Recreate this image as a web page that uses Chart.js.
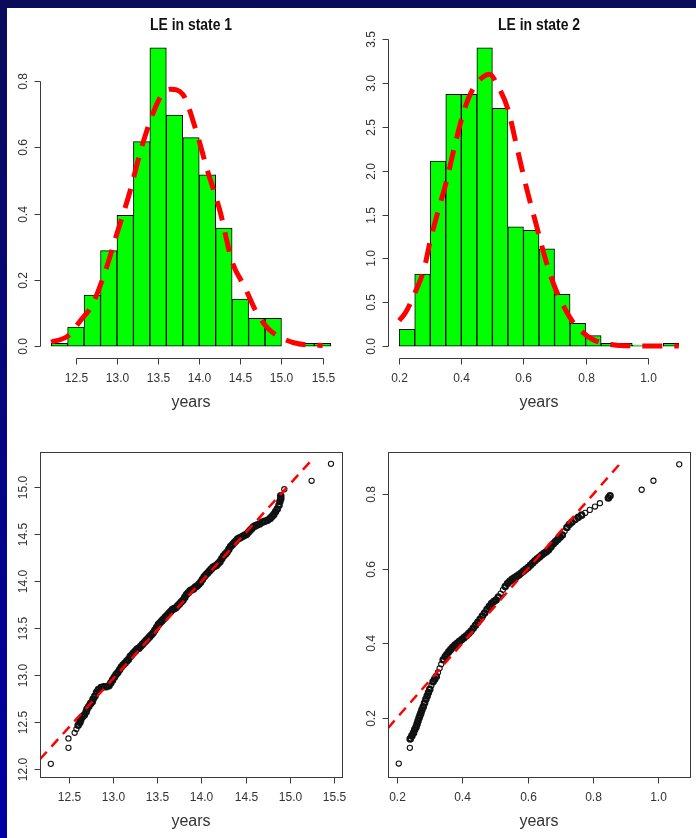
<!DOCTYPE html>
<html>
<head>
<meta charset="utf-8">
<script src="https://cdn.jsdelivr.net/npm/chart.js@4.4.1/dist/chart.umd.min.js"></script>
<style>
  html, body { margin: 0; padding: 0; }
  body { width: 696px; height: 838px; overflow: hidden; position: relative;
         background: linear-gradient(to bottom, #0b0b5c, #0000a6); }
  #paper { position: absolute; left: 7px; top: 8px; right: 0; bottom: 0; background: #fff; }
  canvas { position: absolute; }
</style>
</head>
<body>
<div id="paper"></div>
<canvas id="hist1" width="348" height="420" style="left:0;top:0"></canvas>
<canvas id="hist2" width="348" height="420" style="left:348px;top:0"></canvas>
<canvas id="qq1" width="348" height="420" style="left:0;top:420px"></canvas>
<canvas id="qq2" width="348" height="420" style="left:348px;top:420px"></canvas>
<script>
// histogram, state 1 (bin width 0.2)
const hist1Mids = [12.3, 12.5, 12.7, 12.9, 13.1, 13.3, 13.5, 13.7, 13.9, 14.1, 14.3, 14.5, 14.7, 14.9, 15.1, 15.3, 15.5]
const hist1Density = [0.008, 0.057, 0.154, 0.288, 0.395, 0.617, 0.900, 0.697, 0.629, 0.517, 0.356, 0.142, 0.084, 0.084, 0, 0.008, 0.008]
const curve1X = [12.2, 12.4, 12.55, 12.7, 12.85, 13.0, 13.15, 13.3, 13.45, 13.55, 13.65, 13.8, 13.95, 14.1, 14.25, 14.4, 14.55, 14.7, 14.85, 15.0, 15.15, 15.3, 15.5]
const curve1Y = [0.012, 0.03, 0.075, 0.125, 0.22, 0.34, 0.46, 0.6, 0.71, 0.76, 0.775, 0.76, 0.66, 0.53, 0.41, 0.255, 0.18, 0.1, 0.05, 0.025, 0.01, 0.004, 0.002]

// histogram, state 2 (bin width 0.05)
const hist2Mids = [0.225, 0.275, 0.325, 0.375, 0.425, 0.475, 0.525, 0.575, 0.625, 0.675, 0.725, 0.775, 0.825, 0.875, 0.925, 0.975, 1.025, 1.075]
const hist2Density = [0.19, 0.82, 2.11, 2.87, 2.87, 3.4, 2.71, 1.36, 1.32, 1.11, 0.59, 0.26, 0.12, 0.03, 0.03, 0.01, 0, 0.03]
const curve2X = [0.2, 0.22, 0.25, 0.28, 0.3, 0.33, 0.35, 0.38, 0.41, 0.44, 0.47, 0.49, 0.52, 0.55, 0.58, 0.61, 0.64, 0.67, 0.7, 0.73, 0.76, 0.79, 0.82, 0.86, 0.9, 0.95, 1.0, 1.1]
const curve2Y = [0.29, 0.38, 0.6, 0.88, 1.2, 1.6, 1.85, 2.3, 2.7, 2.95, 3.07, 3.1, 2.95, 2.7, 2.25, 1.8, 1.4, 1.0, 0.68, 0.45, 0.27, 0.16, 0.08, 0.03, 0.01, 0.003, 0.001, 0]

// qq plot, state 1
const qq1X = [12.29, 12.49, 12.49, 12.56, 12.58, 12.60, 12.62, 12.63, 12.65, 12.67, 12.69, 12.70, 12.72, 12.74, 12.76, 12.77, 12.79, 12.81, 12.83, 12.86,
  12.89, 12.92, 12.95, 12.97, 12.99, 13.01, 13.03, 13.05, 13.07, 13.09, 13.11, 13.13, 13.15, 13.17, 13.19, 13.21, 13.23, 13.25, 13.27, 13.29,
  13.31, 13.33, 13.35, 13.37, 13.39, 13.41, 13.43, 13.45, 13.47, 13.49, 13.51, 13.53, 13.55, 13.57, 13.59, 13.61, 13.63, 13.65, 13.67, 13.69,
  13.71, 13.73, 13.75, 13.77, 13.79, 13.81, 13.83, 13.85, 13.87, 13.89, 13.91, 13.93, 13.95, 13.97, 13.99, 14.01, 14.03, 14.05, 14.07, 14.09,
  14.11, 14.13, 14.15, 14.17, 14.19, 14.21, 14.23, 14.25, 14.27, 14.29, 14.31, 14.33, 14.35, 14.37, 14.39, 14.41, 14.43, 14.45, 14.47, 14.49,
  14.51, 14.53, 14.55, 14.57, 14.59, 14.61, 14.63, 14.66, 14.69, 14.72, 14.75, 14.78, 14.80, 14.82, 14.84, 14.86, 14.88, 14.89, 14.90, 14.90,
  14.94, 15.25, 15.47]
const qq1Y = [12.06, 12.23, 12.33, 12.39, 12.43, 12.47, 12.50, 12.53, 12.56, 12.58, 12.61, 12.64, 12.67, 12.70, 12.72, 12.75, 12.78, 12.82, 12.85, 12.87,
  12.88, 12.88, 12.89, 12.92, 12.95, 12.98, 13.01, 13.03, 13.06, 13.09, 13.11, 13.13, 13.15, 13.17, 13.20, 13.22, 13.24, 13.26, 13.28, 13.29,
  13.31, 13.33, 13.35, 13.37, 13.39, 13.41, 13.43, 13.45, 13.48, 13.51, 13.54, 13.56, 13.58, 13.60, 13.62, 13.64, 13.66, 13.68, 13.70, 13.71,
  13.72, 13.74, 13.76, 13.78, 13.80, 13.83, 13.86, 13.88, 13.90, 13.91, 13.92, 13.94, 13.95, 13.97, 13.99, 14.02, 14.05, 14.07, 14.09, 14.11,
  14.13, 14.15, 14.16, 14.17, 14.19, 14.21, 14.24, 14.27, 14.29, 14.31, 14.34, 14.37, 14.39, 14.41, 14.43, 14.45, 14.46, 14.47, 14.48, 14.49,
  14.50, 14.52, 14.54, 14.56, 14.58, 14.59, 14.60, 14.61, 14.63, 14.64, 14.65, 14.67, 14.69, 14.71, 14.74, 14.77, 14.81, 14.85, 14.88, 14.91,
  14.98, 15.07, 15.25]
const qq1LineX = [12.167, 15.27]
const qq1LineY = [12.11, 15.31]

// qq plot, state 2
const qq2X = [0.205, 0.239, 0.240, 0.245, 0.250, 0.254, 0.258, 0.261, 0.264, 0.267, 0.270, 0.273, 0.276, 0.280, 0.284, 0.288, 0.292, 0.296, 0.300, 0.305,
  0.310, 0.315, 0.320, 0.325, 0.330, 0.335, 0.341, 0.347, 0.352, 0.358, 0.364, 0.370, 0.377, 0.384, 0.391, 0.398, 0.405, 0.412, 0.419, 0.426,
  0.433, 0.440, 0.447, 0.454, 0.461, 0.468, 0.475, 0.482, 0.489, 0.496, 0.503, 0.510, 0.517, 0.524, 0.531, 0.538, 0.545, 0.552, 0.559, 0.566,
  0.573, 0.580, 0.587, 0.594, 0.601, 0.608, 0.615, 0.622, 0.629, 0.636, 0.643, 0.650, 0.657, 0.664, 0.671, 0.678, 0.685, 0.692, 0.699, 0.706,
  0.713, 0.720, 0.727, 0.735, 0.745, 0.755, 0.765, 0.776, 0.790, 0.806, 0.821, 0.847, 0.852, 0.949, 0.985, 1.064]
const qq2Y = [0.078, 0.120, 0.144, 0.152, 0.160, 0.169, 0.176, 0.184, 0.192, 0.200, 0.207, 0.214, 0.222, 0.230, 0.240, 0.250, 0.259, 0.268, 0.277, 0.287,
  0.297, 0.304, 0.311, 0.322, 0.333, 0.344, 0.356, 0.364, 0.370, 0.377, 0.383, 0.389, 0.395, 0.400, 0.405, 0.410, 0.415, 0.420, 0.426, 0.432,
  0.440, 0.448, 0.456, 0.464, 0.473, 0.481, 0.490, 0.498, 0.506, 0.512, 0.516, 0.524, 0.533, 0.543, 0.552, 0.560, 0.566, 0.571, 0.575, 0.579,
  0.583, 0.588, 0.593, 0.598, 0.603, 0.609, 0.615, 0.621, 0.626, 0.631, 0.636, 0.641, 0.645, 0.650, 0.658, 0.666, 0.672, 0.678, 0.684, 0.690,
  0.700, 0.710, 0.718, 0.724, 0.731, 0.737, 0.743, 0.749, 0.757, 0.766, 0.775, 0.789, 0.795, 0.811, 0.835, 0.879]
const qq2LineX = [0.172, 0.893]
const qq2LineY = [0.173, 0.891]

// tick values and labels
const hist1XTicks = [12.5, 13.0, 13.5, 14.0, 14.5, 15.0, 15.5]
const hist1XLabels = ['12.5', '13.0', '13.5', '14.0', '14.5', '15.0', '15.5']
const hist1YTicks = [0, 0.2, 0.4, 0.6, 0.8]
const hist1YLabels = ['0.0', '0.2', '0.4', '0.6', '0.8']
const hist2XTicks = [0.2, 0.4, 0.6, 0.8, 1.0]
const hist2XLabels = ['0.2', '0.4', '0.6', '0.8', '1.0']
const hist2YTicks = [0, 0.5, 1, 1.5, 2, 2.5, 3, 3.5]
const hist2YLabels = ['0.0', '0.5', '1.0', '1.5', '2.0', '2.5', '3.0', '3.5']
const qq1XTicks = [12.5, 13.0, 13.5, 14.0, 14.5, 15.0, 15.5]
const qq1XLabels = ['12.5', '13.0', '13.5', '14.0', '14.5', '15.0', '15.5']
const qq1YTicks = [12.0, 12.5, 13.0, 13.5, 14.0, 14.5, 15.0]
const qq1YLabels = ['12.0', '12.5', '13.0', '13.5', '14.0', '14.5', '15.0']
const qq2XTicks = [0.2, 0.4, 0.6, 0.8, 1.0]
const qq2XLabels = ['0.2', '0.4', '0.6', '0.8', '1.0']
const qq2YTicks = [0.2, 0.4, 0.6, 0.8]
const qq2YLabels = ['0.2', '0.4', '0.6', '0.8']

const zip = (xs, ys) => xs.map((x, i) => ({x: x, y: ys[i]}))

// R style axes: separate axis lines, outward ticks, rotated y labels
const rAxes = {
  id: 'rAxes',
  afterDatasetsDraw(chart, args, opts) {
    const ctx = chart.ctx
    const area = chart.chartArea
    const xs = chart.scales.x
    const ys = chart.scales.y
    ctx.save()
    ctx.strokeStyle = '#3a3a3a'
    ctx.lineWidth = 1
    ctx.fillStyle = '#333'
    const bottom = Math.round(area.bottom) + 0.5
    const left = Math.round(area.left) + 0.5
    if (opts.box) {
      ctx.strokeRect(left, Math.round(area.top) + 0.5, Math.round(area.right) - Math.round(area.left), Math.round(area.bottom) - Math.round(area.top))
    }
    ctx.beginPath()
    const xp = opts.xTicks.map(v => Math.round(xs.getPixelForValue(v)) + 0.5)
    ctx.moveTo(xp[0], bottom)
    ctx.lineTo(xp[xp.length - 1], bottom)
    xp.forEach(p => { ctx.moveTo(p, bottom); ctx.lineTo(p, bottom + 6) })
    const yp = opts.yTicks.map(v => Math.round(ys.getPixelForValue(v)) + 0.5)
    ctx.moveTo(left, yp[0])
    ctx.lineTo(left, yp[yp.length - 1])
    yp.forEach(p => { ctx.moveTo(left, p); ctx.lineTo(left - 6, p) })
    ctx.stroke()

    ctx.font = '12px "Liberation Sans", Arial, sans-serif'
    ctx.textAlign = 'center'
    ctx.textBaseline = 'middle'
    xp.forEach((p, i) => ctx.fillText(opts.xLabels[i], p, area.bottom + 21))
    yp.forEach((p, i) => {
      ctx.save()
      ctx.translate(area.left - 16, p)
      ctx.rotate(-Math.PI / 2)
      ctx.fillText(opts.yLabels[i], 0, 0)
      ctx.restore()
    })
    const cx = (area.left + area.right) / 2
    ctx.font = '16px "Liberation Sans", Arial, sans-serif'
    ctx.fillText('years', cx, area.bottom + 45)
    if (opts.title) {
      // condensed bold title, like the narrow font in the original
      ctx.fillStyle = '#111'
      ctx.font = 'bold 17px "Liberation Sans", Arial, sans-serif'
      ctx.translate(cx, 25)
      ctx.scale(0.82, 1)
      ctx.fillText(opts.title, 0, 0)
    }
    ctx.restore()
  }
}

// thicker rings where points crowd together, so the dense run reads as a solid band
function ringWidth(c) {
  const data = c.dataset.data
  const i = c.dataIndex
  const xs = c.chart.scales.x
  const ys = c.chart.scales.y
  if (!xs || !ys || data.length < 2) return 1
  const dist = j => Math.hypot(xs.getPixelForValue(data[i].x) - xs.getPixelForValue(data[j].x),
                               ys.getPixelForValue(data[i].y) - ys.getPixelForValue(data[j].y))
  let d = Infinity
  if (i > 0) d = Math.min(d, dist(i - 1))
  if (i < data.length - 1) d = Math.min(d, dist(i + 1))
  return d < 4 ? 2.4 : 1.1
}

function histConfig(mids, dens, cx, cy, xMin, xMax, yMin, yMax, axes) {
  return {
    type: 'bar',
    data: {
      datasets: [{
        type: 'line',
        data: zip(cx, cy),
        borderColor: '#ff0000',
        borderWidth: 5,
        borderDash: [20, 12],
        borderCapStyle: 'butt',
        cubicInterpolationMode: 'monotone',
        pointRadius: 0,
        fill: false,
        order: 0
      }, {
        data: zip(mids, dens),
        backgroundColor: '#00ff00',
        borderColor: '#000',
        borderWidth: 1,
        borderSkipped: false,
        barPercentage: 1,
        categoryPercentage: 1,
        order: 1
      }]
    },
    options: {
      responsive: false,
      animation: false,
      devicePixelRatio: 1,
      layout: {padding: {left: 40, right: 6, top: 36, bottom: 62}},
      scales: {
        x: {type: 'linear', offset: false, min: xMin, max: xMax, display: false},
        y: {type: 'linear', min: yMin, max: yMax, display: false}
      },
      plugins: {legend: {display: false}, tooltip: {enabled: false}, rAxes: axes}
    },
    plugins: [rAxes]
  }
}

function qqConfig(px, py, lx, ly, xMin, xMax, yMin, yMax, axes) {
  return {
    type: 'scatter',
    data: {
      datasets: [{
        data: zip(px, py),
        pointStyle: 'circle',
        pointRadius: 2.6,
        pointBorderWidth: ringWidth,
        pointBorderColor: '#111',
        pointBackgroundColor: 'rgba(0,0,0,0)',
        order: 1
      }, {
        type: 'line',
        data: zip(lx, ly),
        borderColor: '#ff0000',
        borderWidth: 2.5,
        borderDash: [10, 7],
        pointRadius: 0,
        fill: false,
        order: 0
      }]
    },
    options: {
      responsive: false,
      animation: false,
      devicePixelRatio: 1,
      layout: {padding: {left: 40, right: 6, top: 32, bottom: 63}},
      scales: {
        x: {type: 'linear', min: xMin, max: xMax, display: false},
        y: {type: 'linear', min: yMin, max: yMax, display: false}
      },
      plugins: {legend: {display: false}, tooltip: {enabled: false}, rAxes: axes}
    },
    plugins: [rAxes]
  }
}

new Chart(document.getElementById('hist1'), histConfig(hist1Mids, hist1Density, curve1X, curve1Y, 12.064, 15.736, -0.036, 0.936,
  {xTicks: hist1XTicks, xLabels: hist1XLabels, yTicks: hist1YTicks, yLabels: hist1YLabels, title: 'LE in state 1'}))
new Chart(document.getElementById('hist2'), histConfig(hist2Mids, hist2Density, curve2X, curve2Y, 0.164, 1.136, -0.136, 3.536,
  {xTicks: hist2XTicks, xLabels: hist2XLabels, yTicks: hist2YTicks, yLabels: hist2YLabels, title: 'LE in state 2'}))
new Chart(document.getElementById('qq1'), qqConfig(qq1X, qq1Y, qq1LineX, qq1LineY, 12.167, 15.595, 11.92, 15.376,
  {xTicks: qq1XTicks, xLabels: qq1XLabels, yTicks: qq1YTicks, yLabels: qq1YLabels, box: true}))
new Chart(document.getElementById('qq2'), qqConfig(qq2X, qq2Y, qq2LineX, qq2LineY, 0.172, 1.097, 0.042, 0.912,
  {xTicks: qq2XTicks, xLabels: qq2XLabels, yTicks: qq2YTicks, yLabels: qq2YLabels, box: true}))
</script>
</body>
</html>
